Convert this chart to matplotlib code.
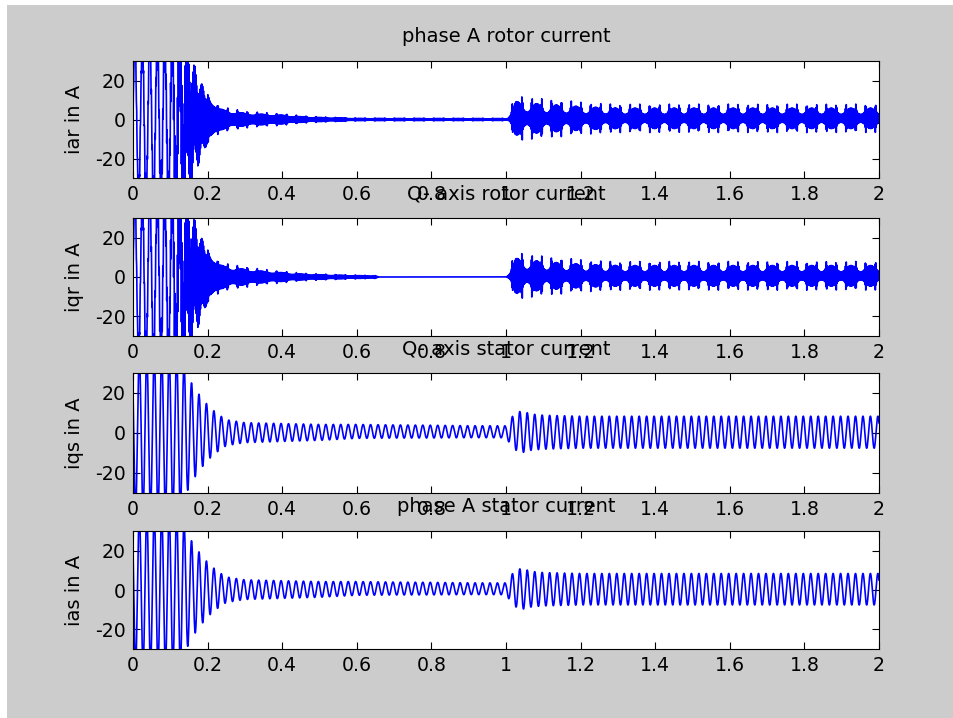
import numpy as np
import matplotlib
matplotlib.use("Agg")
from matplotlib import pyplot as plt
from matplotlib.patches import Rectangle

plt.rcParams['font.family'] = ['DejaVu Sans']
plt.rcParams['axes.unicode_minus'] = False

# time axis of the simulation (s)
T_END = 2.0
DT = 5e-5

# oscillation frequencies (Hz)
F_STATOR = 50.0
F_ROTOR_LO = 50.0
F_ROTOR_HI = 430.0
F_BEAT = 19.0
T_BEAT_PEAK = 1.03

# stator current envelope (peak A) at sample times
stator_t = [0.00, 0.13, 0.15, 0.17, 0.19, 0.21, 0.23, 0.25, 0.30, 0.40, 0.50,
            0.60, 0.70, 0.80, 0.90, 1.00, 1.02, 1.04, 1.07, 1.10, 1.20, 1.40,
            1.60, 1.80, 2.00]
stator_amp = [38, 38, 27, 21, 16, 12, 9, 6.5, 5.0, 4.5, 4.0,
              3.5, 3.3, 3.2, 3.0, 3.0, 8.5, 10.5, 9.0, 8.5, 8.0, 8.0,
              8.0, 8.0, 8.0]
stator_off_t = [0.0, 0.5, 0.6, 1.0, 1.1, 2.0]
stator_off = [0.0, 0.3, 0.8, 0.6, 0.4, 0.4]

# rotor current, low-frequency start-up part
rotor_lo_t = [0.00, 0.13, 0.15, 0.18, 0.21, 0.25]
iar_lo_amp = [40, 40, 12, 4, 0, 0]
iqr_lo_amp = [40, 40, 12, 4, 0, 0]

# rotor current, dense high-frequency part (peak A)
iar_hi_t = [0.00, 0.10, 0.13, 0.15, 0.17, 0.20, 0.23, 0.26, 0.30, 0.35, 0.40,
            0.45, 0.50, 0.60, 1.00, 1.005, 1.025, 1.10, 1.16, 1.21, 1.30, 2.00]
iar_hi_amp = [3, 10, 27, 26, 20, 13, 7.5, 6.0, 4.6, 3.8, 3.2,
              2.1, 1.5, 0.8, 0.7, 1.0, 12.0, 10.0, 9.2, 8.2, 7.3, 7.3]
iqr_hi_t = [0.00, 0.10, 0.13, 0.15, 0.17, 0.20, 0.23, 0.26, 0.30, 0.35, 0.40,
            0.45, 0.55, 0.65, 0.66, 1.00, 1.005, 1.025, 1.10, 1.16, 1.21, 1.30,
            2.00]
iqr_hi_amp = [3, 10, 27, 26, 22, 14, 8.5, 6.8, 5.6, 4.1, 3.2,
              2.1, 1.3, 0.8, 0.0, 0.0, 1.0, 12.4, 10.0, 9.0, 8.1, 7.3,
              7.3]
rotor_off_t = [0.0, 1.0, 1.02, 2.0]
rotor_off = [0.0, 0.0, 0.6, 0.6]

# shape of the rotor blobs: mean level, beat depth, edge spikes
mod_t = [0.0, 0.15, 0.25, 1.0, 1.01, 2.0]
mod_mean = [1.0, 1.0, 0.6, 0.6, 0.5, 0.5]
mod_depth = [0.0, 0.0, 0.1, 0.1, 0.22, 0.22]
mod_spike = [0.0, 0.0, 0.35, 0.35, 0.5, 0.5]

titles = ["phase A rotor current", "Q- axis rotor current",
          "Q- axis stator current", "phase A stator current"]
ylabels = ["iar in A", "iqr in A", "iqs in A", "ias in A"]
xticks = [0, 0.2, 0.4, 0.6, 0.8, 1, 1.2, 1.4, 1.6, 1.8, 2]
yticks = [-20, 0, 20]


t = np.arange(0, T_END + DT / 2, DT)


def stator_current(t):
    amp = np.interp(t, stator_t, stator_amp)
    off = np.interp(t, stator_off_t, stator_off)
    return amp * np.sin(2 * np.pi * F_STATOR * t + 2.52) + off


def rotor_current(t, lo_amp, hi_t, hi_amp):
    lo = np.interp(t, rotor_lo_t, lo_amp) * np.sin(2 * np.pi * F_ROTOR_LO * t)
    ph = 2 * np.pi * F_BEAT * (t - T_BEAT_PEAK)
    shape = (np.interp(t, mod_t, mod_mean)
             + np.interp(t, mod_t, mod_depth) * np.cos(ph)
             + np.interp(t, mod_t, mod_spike) * np.sin(ph) ** 40)
    hi = np.interp(t, hi_t, hi_amp) * shape * np.sin(2 * np.pi * F_ROTOR_HI * t)
    return lo + hi + np.interp(t, rotor_off_t, rotor_off)


signals = [rotor_current(t, iar_lo_amp, iar_hi_t, iar_hi_amp),
           rotor_current(t, iqr_lo_amp, iqr_hi_t, iqr_hi_amp),
           stator_current(t),
           stator_current(t)]

fig = plt.figure(figsize=(9.54, 7.18), dpi=100)
fig.patch.set_facecolor('white')
fig.add_artist(Rectangle((7 / 954, 0), 1, 1 - 5 / 718, transform=fig.transFigure,
                         facecolor='#cccccc', edgecolor='none', zorder=-10))

# axes boxes in pixels: (top, bottom)
boxes = [(61, 178), (218, 336), (373, 493), (531, 649)]
left, right = 133, 879

for i in range(4):
    top, bot = boxes[i]
    ax = fig.add_axes([left / 954, 1 - bot / 718, (right - left) / 954, (bot - top) / 718])
    ax.set_facecolor('white')
    ax.plot(t, signals[i], color='#0000ff', lw=1.2)
    ax.set_xlim(0, 2)
    ax.set_ylim(-30, 30)
    ax.set_xticks(xticks)
    ax.set_xticklabels(['%g' % v for v in xticks])
    ax.set_yticks(yticks)
    ax.tick_params(direction='in', top=True, right=True, length=5, width=0.8,
                   labelsize=13.6, pad=5)
    for s in ax.spines.values():
        s.set_linewidth(0.8)
    ax.set_title(titles[i], fontsize=14, pad=13.5)
    ax.set_ylabel(ylabels[i], fontsize=14)
    ax.yaxis.set_label_coords(-0.066, 0.5)

fig.savefig("out.png", dpi=100, facecolor=fig.get_facecolor())
